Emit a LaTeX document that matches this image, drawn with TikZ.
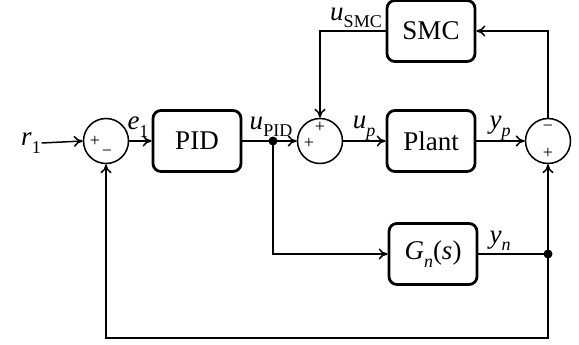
\documentclass[tikz,border=0pt]{standalone}
\usepackage{fontspec}
\setmainfont{Liberation Serif}
\usetikzlibrary{arrows.meta}
% italic symbol with a lowered subscript, set in text fonts
\newcommand{\symsub}[2]{\textit{#1}\raisebox{-0.28em}{\fontsize{18}{18}\selectfont #2}}
\begin{document}
\begin{tikzpicture}[x=1pt,y=-1pt,
  line width=1.5pt,
  >={To[length=9pt,width=11pt]},
  block/.style={draw,line width=2.8pt,rounded corners=8pt,minimum width=88pt,minimum height=61pt,font=\fontsize{27}{30}\selectfont,inner sep=0pt},
  sumnode/.style={draw,circle,line width=1.5pt,minimum size=45pt,inner sep=0pt},
  sig/.style={font=\fontsize{27}{30}\selectfont,inner sep=0pt},
  sgn/.style={font=\fontsize{18}{20}\selectfont,inner sep=0pt},
  dot/.style={circle,fill,minimum size=9pt,inner sep=0pt}]
\useasboundingbox (0,0) rectangle (579,345);

% main loop blocks and summing junctions
\node[sig] (r1) at (31,143) {\symsub{r}{1}};
\node[sumnode] (s1) at (106,141) {};
\node[block] (pid) at (197,141) {PID};
\node[dot] (j1) at (273,141) {};
\node[sumnode] (s2) at (320,141) {};
\node[block] (plant) at (431,141) {Plant};
\node[block] (smc) at (431,31) {SMC};
\node[sumnode] (s3) at (548,141) {};
\node[block] (gn) at (433,254) {\symsub{G}{\itshape n}(\textit{s})};
\node[dot] (j2) at (548,254) {};
\coordinate (bl) at (106,338);
\coordinate (br) at (548,338);
\coordinate (smcl) at (320,31);
\coordinate (smcr) at (548,31);
\coordinate (gnl) at (273,254);

% signs
\node[sgn] (p1) at (95,141) {+};
\node[sgn] (m1) at (107,153) {\textminus};
\node[sgn] (p2a) at (320,127) {+};
\node[sgn] (p2b) at (309,143) {+};
\node[sgn] (m3) at (548,128) {\textminus};
\node[sgn] (p3) at (548,153) {+};

% signal labels
\node[sig] (le1) at (138,127) {\symsub{e}{1}};
\node[sig] (lupid) at (271,127) {\symsub{u}{PID}};
\node[sig] (lusmc) at (356,18) {\symsub{u}{SMC}};
\node[sig] (lup) at (364,128) {\symsub{u}{\itshape p}};
\node[sig] (lyp) at (500,128) {\symsub{y}{\itshape p}};
\node[sig] (lyn) at (500,241) {\symsub{y}{\itshape n}};

% connectors
\draw[->] (r1.east) -- (s1.west);
\draw[->] (s1.east) -- (pid.west);
\draw (pid.east) -- (j1.center);
\draw[->] (j1.center) -- (s2.west);
\draw[->] (s2.east) -- (plant.west);
\draw[->] (plant.east) -- (s3.west);
\draw[->] (s3.north) -- (smcr) -- (smc.east);
\draw[->] (smc.west) -- (smcl) -- (s2.north);
\draw[->] (j1.center) -- (gnl) -- (gn.west);
\draw (gn.east) -- (j2.center);
\draw[->] (j2.center) -- (s3.south);
\draw[->] (j2.center) -- (br) -- (bl) -- (s1.south);
\end{tikzpicture}
\end{document}
